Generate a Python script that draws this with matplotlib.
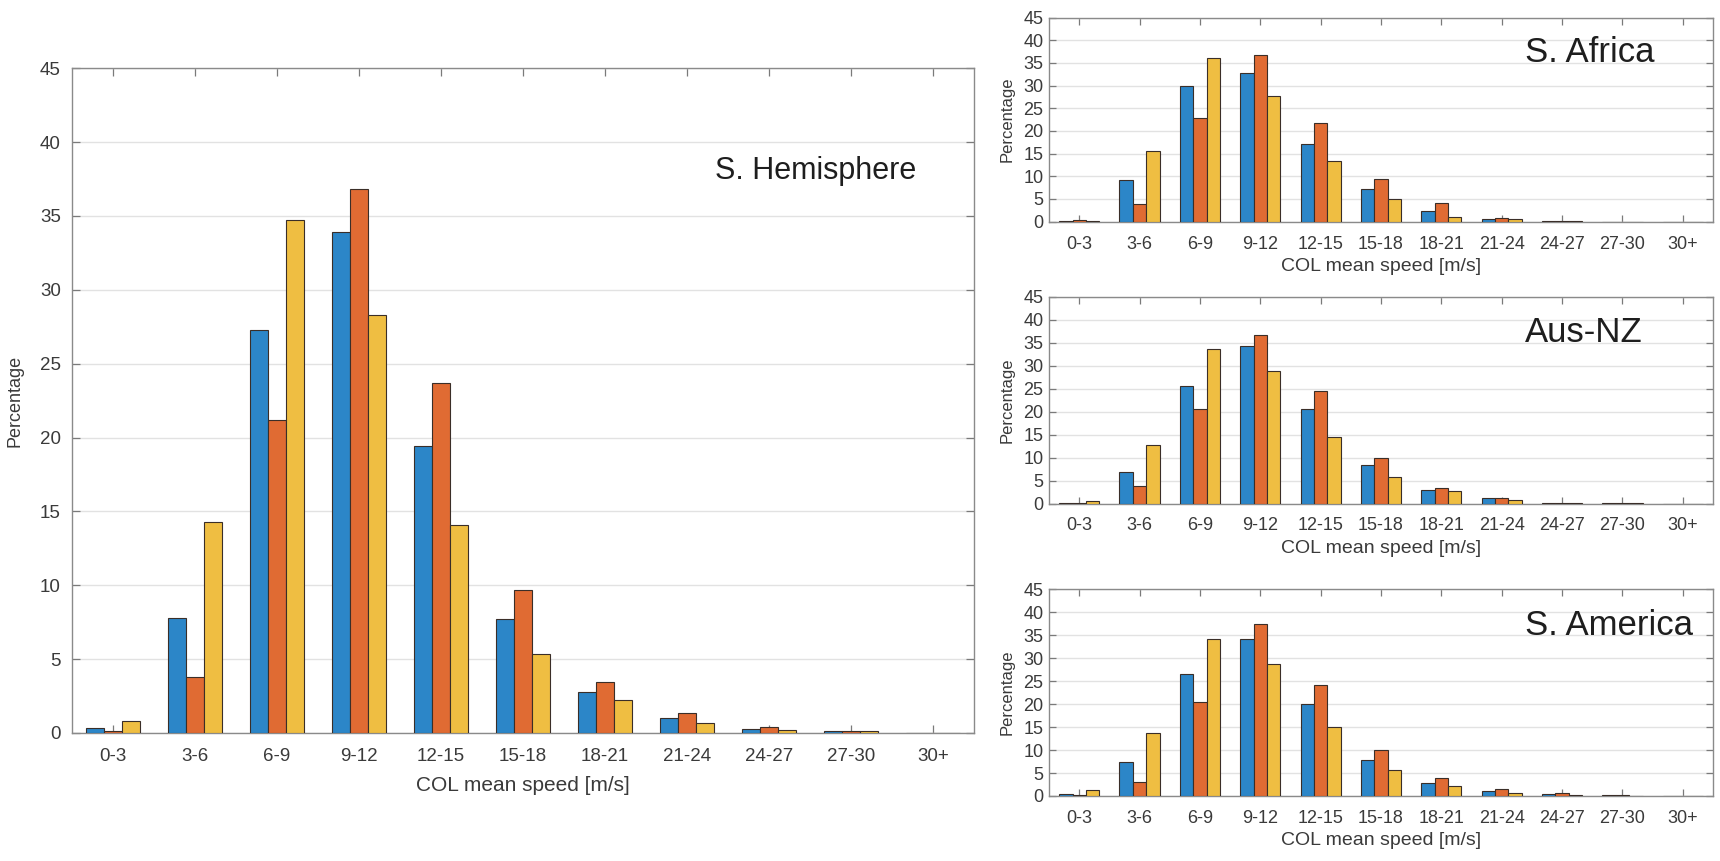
import matplotlib
matplotlib.use("Agg")
import matplotlib.pyplot as plt
import numpy as np

plt.rcParams['font.family'] = ['Liberation Sans', 'DejaVu Sans']

categories = ["0-3", "3-6", "6-9", "9-12", "12-15", "15-18", "18-21", "21-24", "24-27", "27-30", "30+"]

# S. Hemisphere
sh_blue   = [0.34, 7.8, 27.3, 33.9, 19.45, 7.7, 2.75, 1.0, 0.3, 0.1, 0.02]
sh_orange = [0.10, 3.8, 21.2, 36.8, 23.7, 9.7, 3.45, 1.35, 0.42, 0.12, 0.03]
sh_yellow = [0.78, 14.3, 34.7, 28.3, 14.1, 5.35, 2.25, 0.68, 0.2, 0.1, 0.02]

# S. Africa
sa_blue   = [0.2, 9.1, 30.0, 32.8, 17.2, 7.1, 2.4, 0.6, 0.2, 0.0, 0.0]
sa_orange = [0.25, 3.9, 22.8, 36.8, 21.7, 9.4, 4.05, 0.8, 0.15, 0.0, 0.0]
sa_yellow = [0.2, 15.6, 36.1, 27.7, 13.3, 4.9, 1.1, 0.5, 0.05, 0.0, 0.0]

# Aus-NZ
anz_blue   = [0.15, 6.8, 25.6, 34.4, 20.5, 8.3, 2.9, 1.25, 0.15, 0.1, 0.0]
anz_orange = [0.05, 3.75, 20.5, 36.6, 24.4, 9.9, 3.45, 1.3, 0.2, 0.15, 0.0]
anz_yellow = [0.65, 12.8, 33.75, 28.9, 14.5, 5.7, 2.7, 0.75, 0.1, 0.05, 0.0]

# S. America
sam_blue   = [0.5, 7.35, 26.6, 34.1, 20.1, 7.9, 2.9, 1.15, 0.45, 0.15, 0.0]
sam_orange = [0.2, 3.05, 20.4, 37.4, 24.25, 10.05, 3.85, 1.6, 0.6, 0.2, 0.0]
sam_yellow = [1.3, 13.8, 34.1, 28.8, 15.0, 5.7, 2.25, 0.7, 0.2, 0.1, 0.0]

panel_titles = ["S. Hemisphere", "S. Africa", "Aus-NZ", "S. America"]
yticks = [0, 5, 10, 15, 20, 25, 30, 35, 40, 45]
colors = ["#2C86C8", "#E06B33", "#EFBE42"]

fig = plt.figure(figsize=(17.2, 8.61), dpi=100)

ax_main = fig.add_axes([0.0419, 0.1487, 0.5244, 0.772])
ax_sa = fig.add_axes([0.6099, 0.7426, 0.386, 0.237])
ax_anz = fig.add_axes([0.6099, 0.4152, 0.386, 0.240])
ax_sam = fig.add_axes([0.6099, 0.0755, 0.386, 0.240])

x = np.arange(1, len(categories) + 1)
w = 0.222
txtc = "#3a3a3a"

def draw(ax, series, title, big, ty):
    for i, (vals, c) in enumerate(zip(series, colors)):
        ax.bar(x + (i - 1) * w, vals, width=w, color=c, edgecolor="#3a2e28",
               linewidth=0.8, zorder=3)
    ax.set_xlim(0.5, 11.5)
    ax.set_ylim(0, 45)
    ax.set_yticks(yticks)
    ax.set_xticks(x)
    ax.set_xticklabels(categories)
    ax.yaxis.grid(True, color="#e2e2e2", linewidth=1.0, zorder=0)
    ax.set_axisbelow(True)
    ax.tick_params(direction="in", top=True, right=True, length=6 if big else 5,
                   width=0.9, color="#7a7a7a", labelcolor=txtc,
                   labelsize=13.5 if big else 13)
    ax.tick_params(axis="x", pad=11 if big else 10)
    ax.tick_params(axis="y", pad=8 if big else 4)
    for s in ax.spines.values():
        s.set_color("#8a8a8a")
        s.set_linewidth(1.0)
    if big:
        ax.set_ylabel("Percentage", fontsize=13, color=txtc, labelpad=12)
        ax.set_xlabel("COL mean speed [m/s]", fontsize=15, color=txtc, labelpad=8)
        ax.text(0.713, ty, title, transform=ax.transAxes, fontsize=22,
                ha="left", va="center", color="#1e1e1e")
    else:
        ax.set_ylabel("Percentage", fontsize=12, color=txtc, labelpad=6)
        ax.set_xlabel("COL mean speed [m/s]", fontsize=14, color=txtc, labelpad=4)
        ax.text(0.717, ty, title, transform=ax.transAxes, fontsize=25,
                ha="left", va="center", color="#1e1e1e")

draw(ax_main, [sh_blue, sh_orange, sh_yellow], panel_titles[0], True, 0.845)
draw(ax_sa, [sa_blue, sa_orange, sa_yellow], panel_titles[1], False, 0.829)
draw(ax_anz, [anz_blue, anz_orange, anz_yellow], panel_titles[2], False, 0.826)
draw(ax_sam, [sam_blue, sam_orange, sam_yellow], panel_titles[3], False, 0.826)

fig.savefig("out.png", dpi=100, facecolor="white")
